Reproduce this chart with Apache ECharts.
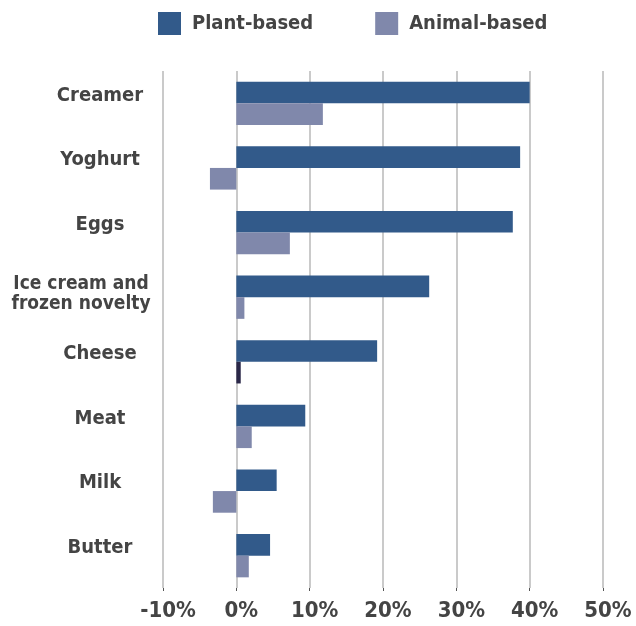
<!DOCTYPE html>
<html>
<head>
<meta charset="utf-8">
<script src="https://cdn.jsdelivr.net/npm/echarts@6/dist/echarts.min.js"></script>
<style>
  html, body { margin: 0; padding: 0; background: #ffffff; }
  #chart { width: 636px; height: 626px; }
</style>
</head>
<body>
<div id="chart"></div>
<script>
// Year-on-year sales growth by product category
const categories = ['Creamer', 'Yoghurt', 'Eggs', 'Ice cream and\nfrozen novelty', 'Cheese', 'Meat', 'Milk', 'Butter'];
const plantBased = [40.0, 38.7, 37.7, 26.3, 19.2, 9.4, 5.5, 4.6];
const animalBased = [11.8, -3.6, 7.3, 1.1, 0.6, 2.1, -3.2, 1.7];
const xTicks = { min: -10, max: 50, step: 10 };

const FONT = "'DejaVu Sans Condensed', 'Liberation Sans Narrow', sans-serif";
const TEXT = '#444444';
const PLANT = '#325a8a';
const ANIMAL = '#8088ab';

const chart = echarts.init(document.getElementById('chart'), null, { renderer: 'canvas' });

// the cheese animal-based bar is drawn in a darker shade
const animalData = animalBased.map((v, i) =>
  categories[i] === 'Cheese' ? { value: v, itemStyle: { color: '#2a2748' } } : v);

chart.setOption({
  animation: false,
  textStyle: { fontFamily: FONT },
  legend: {
    top: 12,
    left: 158,
    padding: 0,
    itemWidth: 23,
    itemHeight: 23,
    itemGap: 62,
    icon: 'rect',
    textStyle: { fontFamily: FONT, fontSize: 20, fontWeight: 'bold', color: TEXT, padding: [0, 0, 0, 6] },
    data: ['Plant-based', 'Animal-based']
  },
  grid: { left: 163, right: 33, top: 71, bottom: 38, containLabel: false, outerBoundsMode: 'none' },
  xAxis: {
    type: 'value',
    min: xTicks.min,
    max: xTicks.max,
    interval: xTicks.step,
    axisLine: { show: false },
    axisTick: { show: true, length: 3, lineStyle: { color: '#555555', width: 1 } },
    splitLine: { show: true, lineStyle: { color: '#b8b8b8', width: 1.5 } },
    axisLabel: {
      formatter: v => v + '%',
      fontFamily: FONT, fontSize: 22, fontWeight: 'bold', color: TEXT, margin: 12,
      padding: [0, 0, 0, 10],
      showMinLabel: true, showMaxLabel: true
    }
  },
  yAxis: {
    type: 'category',
    inverse: true,
    data: categories,
    axisLine: { show: false },
    axisTick: { show: false },
    axisLabel: {
      align: 'center',
      margin: 63,
      // single-line names sit slightly above the bar pair; the two-line name is set smaller and further left
      formatter: v => v.indexOf('\n') >= 0
        ? v.split('\n').map(s => '{two|' + s + '}').join('\n')
        : '{one|' + v + '}',
      rich: {
        one: { fontFamily: FONT, fontSize: 20, fontWeight: 'bold', color: TEXT, padding: [0, 0, 10, 0] },
        two: { fontFamily: FONT, fontSize: 19, fontWeight: 'bold', color: TEXT, lineHeight: 20, padding: [0, 38, 0, 0] }
      },
      padding: [0, 0, 6, 0],
      fontFamily: FONT, fontSize: 20, fontWeight: 'bold', color: TEXT
    }
  },
  series: [
    {
      name: 'Plant-based',
      type: 'bar',
      data: plantBased,
      itemStyle: { color: PLANT },
      barGap: '0%',
      barCategoryGap: '33%'
    },
    {
      name: 'Animal-based',
      type: 'bar',
      data: animalData,
      itemStyle: { color: ANIMAL },
      barGap: '0%',
      barCategoryGap: '33%'
    }
  ]
});
</script>
</body>
</html>
